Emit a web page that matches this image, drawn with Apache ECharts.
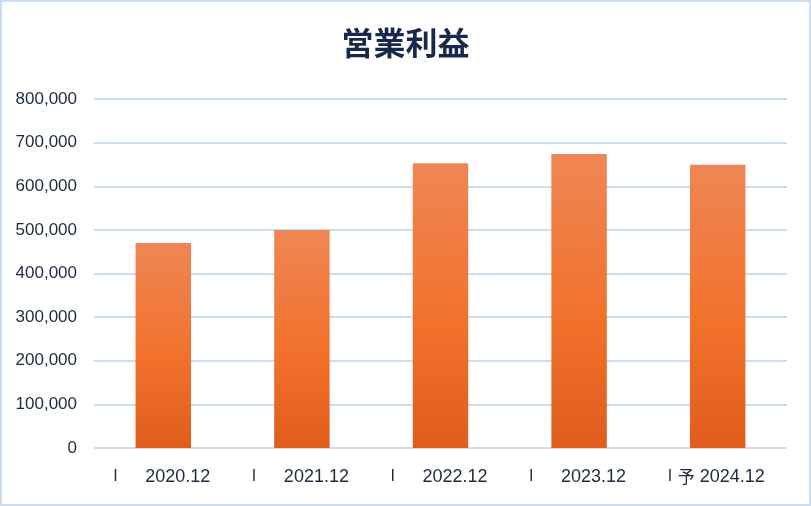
<!DOCTYPE html>
<html><head><meta charset="utf-8">
<script src="https://cdn.jsdelivr.net/npm/echarts@6/dist/echarts.min.js"></script>
<style>html,body{margin:0;padding:0;background:#fff;}#c{width:811px;height:506px;box-sizing:border-box;border:2px solid #c9dcf2;}</style>
</head><body><div id="c"></div>
<script>
var title = '営業利益';
var categories = ['2020.12', '2021.12', '2022.12', '2023.12', '2024.12'];
var prefixes = ['', '', '', '', '予'];
var values = [470000, 500000, 653000, 674000, 649000];
var yTicks = [0, 100000, 200000, 300000, 400000, 500000, 600000, 700000, 800000];

var chart = echarts.init(document.getElementById('c'));
var txt = '#1c2b3f';
chart.setOption({
  animation: false,
  title: {text: title, left: 'center', top: 20,
    textStyle: {fontFamily: 'Noto Sans CJK JP', fontSize: 32, fontWeight: 'bold', color: '#17294a'}},
  grid: {left: 92, right: 22, top: 97, bottom: 56},
  xAxis: {type: 'category', data: categories,
    axisLine: {show: false}, axisTick: {show: false},
    axisLabel: {interval: 0, margin: 20, color: txt, fontSize: 17, fontFamily: 'Liberation Sans',
      formatter: function (v, i) {
        var p = prefixes[i];
        return p ? '{a|I}{p|' + p + '}{c|' + v + '}' : '{a|I}{g|}{c|' + v + '}';
      },
      rich: {
        a: {color: txt, fontSize: 16, fontFamily: 'Liberation Sans', width: 10, align: 'left'},
        g: {width: 22},
        p: {color: txt, fontSize: 17, fontFamily: 'Noto Sans CJK JP', width: 22, align: 'left'},
        c: {color: txt, fontSize: 18, fontFamily: 'Liberation Sans', padding: [0, 3, 0, 0]}
      }}
  },
  yAxis: {type: 'value', min: 0, max: 800000, interval: 100000,
    axisLine: {show: false}, axisTick: {show: false},
    splitLine: {lineStyle: {color: '#c9dcf0', width: 2}},
    axisLabel: {margin: 17, color: txt, fontSize: 17, fontFamily: 'Liberation Sans',
      formatter: function (v) { return v.toLocaleString('en-US'); }}
  },
  series: [{type: 'bar', data: values, barWidth: '40%',
    itemStyle: {color: new echarts.graphic.LinearGradient(0, 0, 0, 1, [
      {offset: 0, color: '#ee8655'}, {offset: 0.55, color: '#f2722c'}, {offset: 1, color: '#e05d1c'}])}
  }]
});
</script></body></html>
